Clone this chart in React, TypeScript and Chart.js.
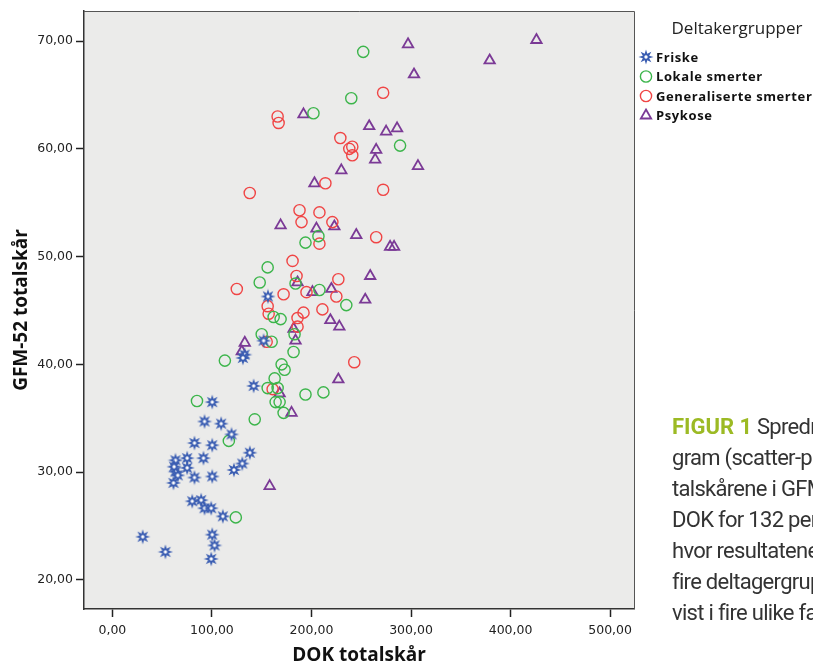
import React, { useEffect, useRef } from "react";
import { Chart, registerables } from "chart.js";
import { drawPoint } from "chart.js/helpers";

Chart.register(...registerables);

// ---- Data (DOK totalskår = x, GFM-52 totalskår = y) ----
const groupLabels = ["Friske", "Lokale smerter", "Generaliserte smerter", "Psykose"];
const legendTitle = "Deltakergrupper";

const friskeX = [141.9, 100.3, 92.6, 109.3, 119.7, 82.5, 100.3, 91.5, 75.1, 63.4, 138.1, 130.5, 122.1, 75.1, 82.5, 100.3, 63.4, 65.7, 61.4, 62.0, 80.2, 89.2, 92.6, 99.3, 111.0, 100.3, 102.6, 99.3, 30.5, 53.3, 156.3, 151.9, 132.8, 131.1];
const friskeY = [38.0, 36.5, 34.7, 34.5, 33.5, 32.7, 32.5, 31.3, 31.3, 31.1, 31.8, 30.8, 30.2, 30.4, 29.5, 29.6, 30.05, 29.7, 29.0, 30.5, 27.3, 27.4, 26.65, 26.65, 25.9, 24.2, 23.2, 21.95, 24.0, 22.6, 46.3, 42.2, 40.9, 40.6];

const lokaleX = [85, 143, 117, 124, 194, 207, 156, 148, 184, 208, 235, 162, 169, 150, 160, 183, 182, 113, 170, 173, 163, 156, 166, 194, 212, 164, 168, 172, 252, 240, 202, 289];
const lokaleY = [36.6, 34.9, 32.9, 25.8, 51.3, 51.9, 49.0, 47.6, 47.5, 46.9, 45.5, 44.4, 44.2, 42.8, 42.1, 42.8, 41.15, 40.35, 40.0, 39.5, 38.7, 37.8, 37.8, 37.2, 37.4, 36.5, 36.5, 35.5, 69.0, 64.7, 63.3, 60.3];

const generaliserteX = [166, 167, 272, 229, 241, 238, 241, 214, 272, 138, 188, 208, 190, 221, 208, 265, 181, 185, 227, 125, 172, 195, 225, 156, 157, 192, 211, 186, 186, 155, 243, 161];
const generaliserteY = [63.0, 62.4, 65.2, 61.0, 60.2, 60.0, 59.4, 56.8, 56.2, 55.9, 54.3, 54.1, 53.2, 53.2, 51.2, 51.8, 49.6, 48.2, 47.9, 47.0, 46.5, 46.7, 46.3, 45.4, 44.7, 44.8, 45.1, 44.3, 43.5, 42.1, 40.2, 37.7];

const psykoseX = [426, 297, 303, 379, 192, 258, 275, 286, 265, 264, 307, 230, 203, 169, 205, 223, 245, 259, 186, 201, 220, 254, 219, 228, 182, 184, 133, 130, 227, 168, 180, 158, 279, 283];
const psykoseY = [70.1, 69.7, 66.9, 68.2, 63.2, 62.1, 61.6, 61.9, 59.9, 59.0, 58.4, 58.0, 56.8, 52.9, 52.6, 52.8, 52.0, 48.2, 47.6, 46.7, 47.0, 46.0, 44.1, 43.5, 43.3, 42.2, 42.0, 41.2, 38.6, 37.3, 35.5, 28.7, 50.9, 50.9];

const xTicks = [0, 100, 200, 300, 400, 500];
const yTicks = [20, 30, 40, 50, 60, 70];
const xTitle = "DOK totalskår";
const yTitle = "GFM-52 totalskår";

const captionLines = [
  "gram (scatter-plot) av to-",
  "talskårene i GFM-52 og",
  "DOK for 132 personer,",
  "hvor resultatene for de",
  "fire deltagergruppene er",
  "vist i fire ulike farger.",
];

const toPoints = (xs: number[], ys: number[]) => xs.map((x, i) => ({ x, y: ys[i] }));
const fmt = (v: number) => v.toFixed(2).replace(".", ",");

function makeStar(color: string): HTMLCanvasElement {
  const c = document.createElement("canvas");
  const s = 16;
  c.width = s;
  c.height = s;
  const ctx = c.getContext("2d")!;
  const cx = s / 2, cy = s / 2;
  const outer = 7.6, inner = 3.4, n = 8;
  ctx.beginPath();
  for (let i = 0; i < n * 2; i++) {
    const r = i % 2 === 0 ? outer : inner;
    const a = (Math.PI * i) / n - Math.PI / 2;
    const px = cx + Math.cos(a) * r;
    const py = cy + Math.sin(a) * r;
    if (i === 0) ctx.moveTo(px, py);
    else ctx.lineTo(px, py);
  }
  ctx.closePath();
  ctx.fillStyle = color;
  ctx.fill();
  ctx.beginPath();
  ctx.arc(cx, cy, 1.7, 0, Math.PI * 2);
  ctx.fillStyle = "#ffffff";
  ctx.fill();
  return c;
}

const plotBg = {
  id: "plotBg",
  beforeDraw(chart: any) {
    const { ctx, chartArea: a } = chart;
    ctx.save();
    ctx.fillStyle = "#ebebea";
    ctx.fillRect(a.left, a.top, a.right - a.left, a.bottom - a.top);
    ctx.restore();
  },
  afterDraw(chart: any) {
    const { ctx, chartArea: a } = chart;
    ctx.save();
    ctx.strokeStyle = "#555";
    ctx.lineWidth = 1;
    ctx.beginPath();
    ctx.moveTo(a.left, a.top + 0.5);
    ctx.lineTo(a.right + 0.5, a.top + 0.5);
    ctx.lineTo(a.right + 0.5, a.bottom);
    ctx.stroke();
    ctx.restore();
  },
};

const customLegend = {
  id: "customLegend",
  afterDraw(chart: any) {
    const ctx = chart.ctx;
    ctx.save();
    ctx.fillStyle = "#222";
    ctx.font = '17px "Open Sans"';
    ctx.textAlign = "center";
    ctx.textBaseline = "middle";
    ctx.fillText(legendTitle, 737, 29);
    chart.data.datasets.forEach((ds: any, i: number) => {
      const y = 57 + i * 19.5;
      ctx.strokeStyle = ds.pointBorderColor;
      ctx.fillStyle = "rgba(0,0,0,0)";
      ctx.lineWidth = ds.pointBorderWidth;
      drawPoint(ctx, { pointStyle: ds.pointStyle, radius: ds.pointRadius, borderWidth: ds.pointBorderWidth, rotation: 0 } as any, 646, y);
      ctx.fillStyle = "#111";
      ctx.font = 'bold 13px "Open Sans"';
      (ctx as any).letterSpacing = "0.6px";
      ctx.textAlign = "left";
      ctx.fillText(ds.label, 656, y + 1);
      (ctx as any).letterSpacing = "0px";
    });
    ctx.restore();
  },
};

export default function App() {
  const ref = useRef<HTMLCanvasElement | null>(null);

  useEffect(() => {
    if (!ref.current) return;
    const star = makeStar("#3a5db2");
    const chart = new Chart(ref.current, {
      type: "scatter",
      data: {
        datasets: [
          {
            label: groupLabels[0],
            data: toPoints(friskeX, friskeY),
            pointStyle: star as any,
            pointRadius: 7,
            pointBorderWidth: 0,
            pointBorderColor: "#3a5db2",
            pointBackgroundColor: "#3a5db2",
          },
          {
            label: groupLabels[1],
            data: toPoints(lokaleX, lokaleY),
            pointStyle: "circle",
            pointRadius: 5.6,
            pointBorderWidth: 1.4,
            pointBorderColor: "#3cb54b",
            pointBackgroundColor: "rgba(0,0,0,0)",
          },
          {
            label: groupLabels[2],
            data: toPoints(generaliserteX, generaliserteY),
            pointStyle: "circle",
            pointRadius: 5.6,
            pointBorderWidth: 1.4,
            pointBorderColor: "#f04545",
            pointBackgroundColor: "rgba(0,0,0,0)",
          },
          {
            label: groupLabels[3],
            data: toPoints(psykoseX, psykoseY),
            pointStyle: "triangle",
            pointRadius: 6,
            pointBorderWidth: 1.8,
            pointBorderColor: "#7b3a96",
            pointBackgroundColor: "rgba(0,0,0,0)",
          },
        ] as any,
      },
      options: {
        animation: false,
        responsive: false,
        devicePixelRatio: 1,
        layout: { padding: { left: 0, top: 11, right: 179, bottom: 0 } },
        plugins: {
          legend: { display: false },
          tooltip: { enabled: false },
        },
        scales: {
          x: {
            type: "linear",
            min: -28.5,
            max: 524,
            afterBuildTicks: (s: any) => {
              s.ticks = xTicks.map((v) => ({ value: v }));
            },
            afterFit: (s: any) => {
              s.height = 55;
            },
            grid: { display: true, drawOnChartArea: false, drawTicks: true, tickLength: 8, tickColor: "#222", tickWidth: 1.5 } as any,
            border: { display: true, color: "#333", width: 1.5 },
            ticks: {
              color: "#222",
              padding: 6,
              font: { family: "DejaVu Sans", size: 12.5 },
              callback: (v: any) => fmt(Number(v)),
            },
            title: {
              display: true,
              text: xTitle,
              color: "#111",
              font: { family: "Open Sans", size: 19, weight: "bold", lineHeight: 1 },
              padding: { top: 0, bottom: -1.5 },
            },
          },
          y: {
            type: "linear",
            min: 17.3,
            max: 72.79,
            afterBuildTicks: (s: any) => {
              s.ticks = yTicks.map((v) => ({ value: v }));
            },
            afterFit: (s: any) => {
              s.width = 84;
            },
            grid: { display: true, drawOnChartArea: false, drawTicks: true, tickLength: 8, tickColor: "#222", tickWidth: 1.5 } as any,
            border: { display: true, color: "#333", width: 1.5 },
            ticks: {
              color: "#222",
              padding: 3,
              font: { family: "DejaVu Sans", size: 12.5 },
              callback: (v: any) => fmt(Number(v)),
            },
            title: {
              display: true,
              text: yTitle,
              color: "#111",
              font: { family: "Open Sans", size: 19, weight: "bold", lineHeight: 1 },
              padding: { top: 12, bottom: 0 },
            },
          },
        },
      },
      plugins: [plotBg, customLegend],
    });
    return () => chart.destroy();
  }, []);

  return (
    <div
      style={{
        position: "fixed",
        left: 0,
        top: 0,
        width: 813,
        height: 664,
        overflow: "hidden",
        background: "#ffffff",
      }}
    >
      <canvas ref={ref} width={813} height={664} style={{ display: "block", width: 813, height: 664 }} />
      <div
        style={{
          position: "absolute",
          left: 672,
          top: 411,
          whiteSpace: "nowrap",
          fontFamily: "Roboto, sans-serif",
          fontSize: 22,
          lineHeight: "31px",
          color: "#333",
          letterSpacing: "-0.7px",
        }}
      >
        <div>
          <span style={{ color: "#9cba24", fontWeight: "bold", letterSpacing: "0px" }}>FIGUR 1</span> Spredningsdia-
        </div>
        {captionLines.map((l, i) => (
          <div key={i}>{l}</div>
        ))}
      </div>
    </div>
  );
}
